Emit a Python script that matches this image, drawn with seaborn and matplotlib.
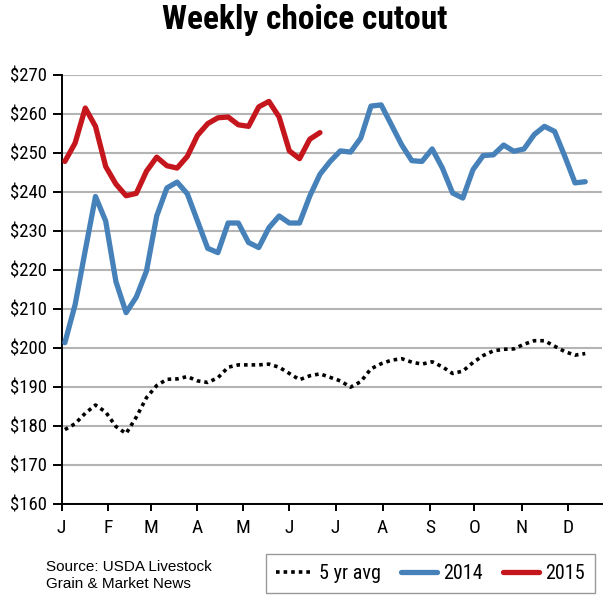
import pandas as pd
import seaborn as sns
import matplotlib.pyplot as plt
from matplotlib import font_manager

# ============ Data (weekly, $/cwt) ============
weeks_2014 = list(range(52))
cutout_2014 = [201.3, 211, 225, 238.8, 232.5, 217, 209, 213, 219.7, 233.8,
               241, 242.5, 239.5, 232.5, 225.5, 224.4, 232, 232, 227, 225.7,
               230.8, 233.8, 232, 232, 238.9, 244.5, 247.8, 250.5, 250.2, 253.8,
               262, 262.3, 257.2, 252.1, 248, 247.8, 251, 246.1, 239.7, 238.4,
               245.7, 249.3, 249.5, 252, 250.4, 251, 254.7, 256.8, 255.5, 249.1,
               242.3, 242.6]

weeks_2015 = list(range(26))
cutout_2015 = [247.8, 252.5, 261.5, 256.8, 246.5, 242, 239, 239.6, 245.3, 248.9,
               246.7, 246.1, 249.1, 254.5, 257.5, 259, 259.2, 257.2, 256.8, 261.8,
               263.2, 259.2, 250.5, 248.5, 253.5, 255.2]

avg_5yr = [179, 180.5, 183.2, 185.3, 183.5, 179.8, 178, 182.2, 187.2, 190.3,
           191.9, 192, 192.6, 191.5, 191.1, 192.3, 195, 195.6, 195.6, 195.6,
           195.8, 195, 193.4, 191.8, 192.8, 193.3, 192.4, 191.5, 189.9, 191.3,
           194.6, 195.9, 196.8, 197.2, 196.3, 195.8, 196.4, 195.1, 193.4, 194,
           196.2, 198, 199.2, 199.6, 199.7, 200.9, 201.8, 201.8, 200.4, 199,
           198.1, 198.5]

month_labels = ['J', 'F', 'M', 'A', 'M', 'J', 'J', 'A', 'S', 'O', 'N', 'D']
month_ticks = [-0.32, 4.25, 8.4, 12.97, 17.42, 21.99, 26.54, 31.15, 35.78, 40.13, 44.77, 49.28]
y_ticks = list(range(160, 271, 10))

df14 = pd.DataFrame({'week': weeks_2014, 'price': cutout_2014})
df15 = pd.DataFrame({'week': weeks_2015, 'price': cutout_2015})
dfavg = pd.DataFrame({'week': weeks_2014, 'price': avg_5yr})

# ============ Style ============
sns.set_style('white')
names = {f.name for f in font_manager.fontManager.ttflist}
cond = 'Roboto Condensed' if 'Roboto Condensed' in names else 'DejaVu Sans'
plt.rcParams['font.family'] = [cond, 'DejaVu Sans']
plt.rcParams['font.stretch'] = 'condensed'
plt.rcParams['text.color'] = 'black'
plt.rcParams['xtick.color'] = 'black'
plt.rcParams['ytick.color'] = 'black'

fig = plt.figure(figsize=(6.1, 6.09), dpi=100)
ax = fig.add_axes([0.101, 0.173, 0.886, 0.704])

blue = '#4682b9'
red = '#c4161c'

sns.lineplot(data=dfavg, x='week', y='price', ax=ax, color='black',
             linewidth=2.6, linestyle=(0, (1, 1.1)), label='5 yr avg', zorder=3)
sns.lineplot(data=df14, x='week', y='price', ax=ax, color=blue,
             linewidth=3.8, label='2014', zorder=4)
sns.lineplot(data=df15, x='week', y='price', ax=ax, color=red,
             linewidth=3.8, label='2015', zorder=5)

ax.set_xlim(-0.32, 52.65)
ax.set_ylim(160, 270)
ax.set_yticks(y_ticks)
ax.set_yticklabels([f'${v}' for v in y_ticks], fontsize=13.5)
ax.set_xticks(month_ticks)
ax.set_xticklabels(month_labels, fontsize=14)
ax.set_xlabel('')
ax.set_ylabel('')

ax.grid(axis='y', color='#b4b4b4', linewidth=1.5)
ax.set_axisbelow(True)
for s in ['top', 'right']:
    ax.spines[s].set_visible(False)
for s in ['left', 'bottom']:
    ax.spines[s].set_color('black')
    ax.spines[s].set_linewidth(1.4)
ax.tick_params(axis='y', direction='out', length=6.5, width=1.4,
               color='black', pad=4, left=True)
ax.tick_params(axis='x', direction='out', length=5, width=1.4,
               color='black', pad=6, bottom=True)

fig.suptitle('Weekly choice cutout', x=0.5, y=0.993, fontsize=24,
             fontweight='heavy')

fig.text(0.076, 0.081, 'Source: USDA Livestock\nGrain & Market News',
         fontsize=11, family=['Liberation Sans', 'DejaVu Sans'],
         fontstretch='normal', va='top', ha='left', linespacing=1.3)

leg = ax.legend(loc='center', bbox_to_anchor=(0.706, 0.058),
                bbox_transform=fig.transFigure, ncol=3, frameon=True,
                fancybox=False, edgecolor='#808080', fontsize=14.5,
                handlelength=1.8, columnspacing=1.0, handletextpad=0.3,
                borderpad=0.5, borderaxespad=0)
leg.get_frame().set_linewidth(1.0)

plt.savefig('out.png', dpi=100)
